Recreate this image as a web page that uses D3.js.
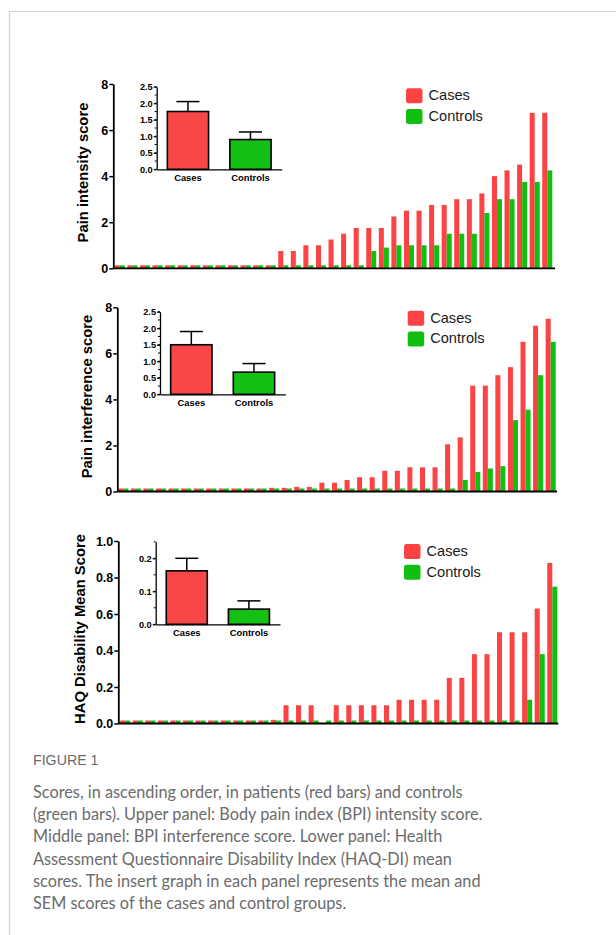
<!DOCTYPE html>
<html>
<head>
<meta charset="UTF-8">
<title>Figure 1</title>
<style>
  body { margin: 0; background: #fff; }
  svg text { font-family: "Liberation Sans", Arial, sans-serif; }
  .caption { font-family: Lato, "Open Sans", sans-serif; fill: #6c6c6c; }
</style>
</head>
<body>
<div id="app"></div>
<script src="https://d3js.org/d3.v7.min.js"></script>
<script>
// subjects ranked in ascending order of score
const ranks = d3.range(1, 36)
const groups = ['Cases', 'Controls']

// upper panel: BPI intensity
const intensityCases = [0, 0, 0, 0, 0, 0, 0, 0, 0, 0, 0, 0, 0,
  0.75, 0.75, 1.0, 1.0, 1.25, 1.5, 1.75, 1.75, 1.75, 2.25, 2.5, 2.5, 2.75, 2.75,
  3.0, 3.0, 3.25, 4.0, 4.25, 4.5, 6.75, 6.75]
const intensityControls = [0, 0, 0, 0, 0, 0, 0, 0, 0, 0, 0, 0, 0, 0, 0, 0, 0, 0, 0, 0,
  0.75, 0.9, 1.0, 1.0, 1.0, 1.0, 1.5, 1.5, 1.5, 2.4, 3.0, 3.0, 3.75, 3.75, 4.25]

// middle panel: BPI interference
const interferenceCases = [0, 0, 0, 0, 0, 0, 0, 0, 0, 0, 0, 0,
  0.16, 0.16, 0.2, 0.2, 0.38, 0.38, 0.5, 0.62, 0.62, 0.9, 0.9, 1.05, 1.05, 1.05,
  2.05, 2.35, 4.6, 4.6, 5.05, 5.4, 6.5, 7.2, 7.5]
const interferenceControls = [0, 0, 0, 0, 0, 0, 0, 0, 0, 0, 0, 0, 0, 0, 0, 0, 0, 0, 0, 0,
  0, 0, 0, 0, 0, 0, 0, 0.5, 0.85, 1.0, 1.1, 3.1, 3.55, 5.05, 6.5]

// lower panel: HAQ-DI (null = no bar drawn)
const haqCases = [0, 0, 0, 0, 0, 0, 0, 0, 0, 0, 0, 0,
  0.02, 0.1, 0.1, 0.1, null, 0.1, 0.1, 0.1, 0.1, 0.1, 0.13, 0.13, 0.13, 0.13,
  0.25, 0.25, 0.38, 0.38, 0.5, 0.5, 0.5, 0.63, 0.88]
const haqControls = [0, 0, 0, 0, 0, 0, 0, 0, 0, 0, 0, 0, 0, 0, 0, 0, 0, 0, 0, 0,
  0, 0, 0, 0, 0, 0, 0, 0, 0, 0, 0, 0, 0.13, 0.38, 0.75]

// inserts: mean and SEM per group [Cases, Controls]
const intensityMean = [1.75, 0.9]
const intensitySem = [0.3, 0.23]
const interferenceMean = [1.5, 0.67]
const interferenceSem = [0.4, 0.26]
const haqMean = [0.162, 0.046]
const haqSem = [0.038, 0.025]

const mainTicks8 = [0, 2, 4, 6, 8]
const mainTicksHaq = [0, 0.2, 0.4, 0.6, 0.8, 1.0]
const insetTicks25 = [0, 0.5, 1.0, 1.5, 2.0, 2.5]
const insetTicksHaq = [0, 0.1, 0.2]

const captionLines = [
  'Scores, in ascending order, in patients (red bars) and controls',
  '(green bars). Upper panel: Body pain index (BPI) intensity score.',
  'Middle panel: BPI interference score. Lower panel: Health',
  'Assessment Questionnaire Disability Index (HAQ-DI) mean',
  'scores. The insert graph in each panel represents the mean and',
  'SEM scores of the cases and control groups.'
]

let W = 616
let H = 935
let barColors = { Cases: '#fb4343', Controls: '#10bf10' }
let insetColors = { Cases: '#f94646', Controls: '#13c013' }

let panels = [
  {
    label: 'Pain intensity score', cases: intensityCases, controls: intensityControls,
    max: 8, ticks: mainTicks8, fmt: d3.format('d'),
    base: 268.3, top: 84, axisX: 113.3, axisEnd: 555, barStart: 114.8, barEnd: 552.3,
    labelX: 88, labelY: 172.5,
    legend: { x: 406, y: 88.3 },
    inset: { mean: intensityMean, sem: intensitySem, max: 2.5, ticks: insetTicks25, minor: 0.25,
      x0: 156.7, x1: 281.7, base: 169.3, top: 86.7 }
  },
  {
    label: 'Pain interference score', cases: interferenceCases, controls: interferenceControls,
    max: 8, ticks: mainTicks8, fmt: d3.format('d'),
    base: 491.5, top: 307.3, axisX: 117.3, axisEnd: 557, barStart: 118.3, barEnd: 555.7,
    labelX: 92, labelY: 396.5,
    legend: { x: 407.7, y: 310.7 },
    inset: { mean: interferenceMean, sem: interferenceSem, max: 2.5, ticks: insetTicks25, minor: 0.25,
      x0: 160, x1: 285.3, base: 394.3, top: 311.7 }
  },
  {
    label: 'HAQ Disability Mean Score', cases: haqCases, controls: haqControls,
    max: 1.0, ticks: mainTicksHaq, fmt: d3.format('.1f'),
    base: 723.5, top: 541, axisX: 118.3, axisEnd: 558.3, barStart: 120.2, barEnd: 557.3,
    labelX: 85, labelY: 629,
    legend: { x: 404, y: 544 },
    inset: { mean: haqMean, sem: haqSem, max: 0.25, ticks: insetTicksHaq, minor: 0.05,
      x0: 155.7, x1: 280, base: 624.3, top: 541.8 }
  }
]

let svg = d3.select('#app').append('svg')
  .attr('width', W)
  .attr('height', H)

// page frame
svg.append('line').attr('x1', 9.5).attr('x2', W).attr('y1', 11.5).attr('y2', 11.5)
  .attr('stroke', '#d2d2d2').attr('stroke-width', 1.2)
svg.append('line').attr('x1', 9.5).attr('x2', 9.5).attr('y1', 11.5).attr('y2', H)
  .attr('stroke', '#d2d2d2').attr('stroke-width', 1.2)

function styleAxis(ax, size) {
  ax.select('.domain').attr('stroke', '#000').attr('stroke-width', 1.8)
  ax.selectAll('.tick line').attr('stroke', '#000').attr('stroke-width', 1.5)
  ax.selectAll('text').attr('fill', '#000').attr('font-size', size).attr('font-weight', 'bold')
    .attr('font-family', '"Liberation Sans", Arial, sans-serif')
}

function drawPanel(p) {
  let g = svg.append('g')

  let y = d3.scaleLinear().domain([0, p.max]).range([p.base, p.top])
  let x = d3.scaleBand().domain(ranks).range([p.barStart, p.barEnd]).paddingInner(0.2)
  let xs = d3.scaleBand().domain(groups).range([0, x.bandwidth()])

  let rows = ranks.map((r, i) => ({ rank: r, values: [p.cases[i], p.controls[i]] }))

  g.selectAll('g.pair')
    .data(rows).enter()
    .append('g').attr('class', 'pair')
    .attr('transform', d => 'translate(' + x(d.rank) + ',0)')
    .selectAll('rect')
    .data(d => groups.map((k, j) => ({ key: k, v: d.values[j] })).filter(d => d.v != null))
    .enter().append('rect')
    .attr('x', d => xs(d.key))
    .attr('width', xs.bandwidth())
    .attr('y', d => Math.min(y(d.v), p.base - 3))
    .attr('height', d => Math.max(p.base - y(d.v), 3))
    .attr('fill', d => barColors[d.key])

  // axes
  g.append('line')
    .attr('x1', p.axisX).attr('x2', p.axisEnd)
    .attr('y1', p.base).attr('y2', p.base)
    .attr('stroke', '#000').attr('stroke-width', 1.8)

  let ay = g.append('g')
    .attr('transform', 'translate(' + p.axisX + ',0)')
    .call(d3.axisLeft(y).tickValues(p.ticks).tickFormat(p.fmt).tickSize(4).tickSizeOuter(0).tickPadding(1))
  styleAxis(ay, 12.5)

  g.append('text')
    .attr('transform', 'translate(' + p.labelX + ',' + p.labelY + ') rotate(-90)')
    .attr('text-anchor', 'middle')
    .attr('font-size', 14.8).attr('font-weight', 'bold')
    .text(p.label)

  // legend
  let lg = g.append('g').attr('transform', 'translate(' + p.legend.x + ',' + p.legend.y + ')')
  groups.forEach((k, i) => {
    lg.append('rect').attr('x', 0).attr('y', i * 20.8).attr('width', 16.5).attr('height', 15)
      .attr('rx', 2.5).attr('fill', barColors[k])
    lg.append('text').attr('x', 22.5).attr('y', i * 20.8 + 12).attr('font-size', 14.6)
      .attr('fill', '#1a1a1a').text(k)
  })

  drawInset(g, p.inset)
}

function drawInset(g, s) {
  let iy = d3.scaleLinear().domain([0, s.max]).range([s.base, s.top])
  let ix = d3.scaleBand().domain(groups).range([s.x0, s.x1]).paddingInner(0.34).paddingOuter(0.17)

  let data = groups.map((k, i) => ({ key: k, mean: s.mean[i], sem: s.sem[i] }))

  // error bars (upper side only)
  let eb = g.append('g').selectAll('g').data(data).enter().append('g')
  eb.append('line')
    .attr('x1', d => ix(d.key) + ix.bandwidth() / 2).attr('x2', d => ix(d.key) + ix.bandwidth() / 2)
    .attr('y1', d => iy(d.mean)).attr('y2', d => iy(d.mean + d.sem))
    .attr('stroke', '#000').attr('stroke-width', 1.5)
  eb.append('line')
    .attr('x1', d => ix(d.key) + ix.bandwidth() * 0.22).attr('x2', d => ix(d.key) + ix.bandwidth() * 0.78)
    .attr('y1', d => iy(d.mean + d.sem)).attr('y2', d => iy(d.mean + d.sem))
    .attr('stroke', '#000').attr('stroke-width', 1.5)

  g.append('g').selectAll('rect').data(data).enter().append('rect')
    .attr('x', d => ix(d.key))
    .attr('width', ix.bandwidth())
    .attr('y', d => iy(d.mean))
    .attr('height', d => s.base - iy(d.mean))
    .attr('fill', d => insetColors[d.key])
    .attr('stroke', '#000').attr('stroke-width', 1.6)

  // minor ticks
  let minors = d3.range(0, s.max + 1e-9, s.minor)
  g.append('g').selectAll('line').data(minors).enter().append('line')
    .attr('x1', s.x0 - 2).attr('x2', s.x0)
    .attr('y1', d => iy(d)).attr('y2', d => iy(d))
    .attr('stroke', '#000').attr('stroke-width', 1)

  let ay = g.append('g')
    .attr('transform', 'translate(' + s.x0 + ',0)')
    .call(d3.axisLeft(iy).tickValues(s.ticks).tickFormat(d3.format('.1f')).tickSize(3).tickSizeOuter(0).tickPadding(1))
  styleAxis(ay, 9.2)
  ay.select('.domain').attr('stroke-width', 1.3)
  ay.selectAll('.tick line').attr('stroke-width', 1.2)

  let ax = g.append('g')
    .attr('transform', 'translate(0,' + s.base + ')')
    .call(d3.axisBottom(ix).tickSize(0).tickSizeOuter(0).tickPadding(5))
  styleAxis(ax, 9.4)
  ax.select('.domain').attr('stroke-width', 1.3)
}

panels.forEach(drawPanel)

// caption
svg.append('text')
  .attr('x', 33).attr('y', 765)
  .attr('font-family', 'Lato, "Open Sans", sans-serif')
  .attr('font-size', 14.2).attr('font-weight', 500)
  .attr('fill', '#6a6a6a')
  .text('FIGURE 1')

svg.append('g').selectAll('text')
  .data(captionLines).enter()
  .append('text')
  .attr('class', 'caption')
  .attr('x', 33)
  .attr('y', (d, i) => 798 + i * 22.2)
  .attr('font-size', 16.3)
  .attr('font-weight', 400)
  .text(d => d)
</script>
</body>
</html>
